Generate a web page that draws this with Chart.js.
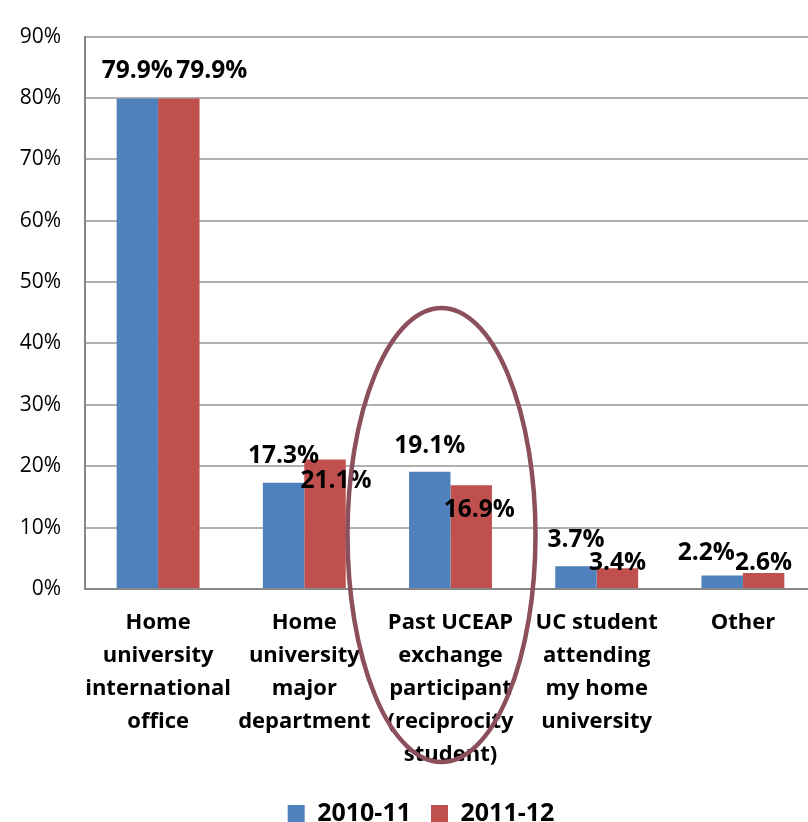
<!DOCTYPE html>
<html>
<head>
<meta charset="utf-8">
<script src="https://cdn.jsdelivr.net/npm/chart.js@4.4.1/dist/chart.umd.min.js"></script>
<style>
  html, body { margin: 0; padding: 0; background: #fff; }
  #wrap { width: 808px; height: 822px; }
</style>
</head>
<body>
<div id="wrap"><canvas id="chart" width="808" height="822"></canvas></div>
<script>
// categories (multi-line labels, as in the original)
const categories = [
  ['Home', 'university', 'international', 'office'],
  ['Home', 'university', 'major', 'department'],
  ['Past UCEAP', 'exchange', 'participant', '(reciprocity', 'student)'],
  ['UC student', 'attending', 'my home', 'university'],
  ['Other']
];
const seriesNames = ['2010-11', '2011-12'];
const values2010 = [79.9, 17.3, 19.1, 3.7, 2.2];
const values2011 = [79.9, 21.1, 16.9, 3.4, 2.6];
const yTicks = [0, 10, 20, 30, 40, 50, 60, 70, 80, 90];

const FONT = "'Open Sans', 'DejaVu Sans', sans-serif";

// label nudges (px) so the data labels sit where the original has them
const labelDx = [[0, 0, 0, 0, -16], [33, 11, 8, 0, 0]];
const labelDy = [[-28, -27, -26, -26, -22], [-28, 22, 25, -5, -10]];

const dataLabels = {
  id: 'dataLabels',
  afterDatasetsDraw(chart) {
    const ctx = chart.ctx;
    ctx.save();
    ctx.font = 'bold 24.5px ' + FONT;
    ctx.fillStyle = '#000';
    ctx.textAlign = 'center';
    ctx.textBaseline = 'middle';
    chart.data.datasets.forEach((ds, i) => {
      chart.getDatasetMeta(i).data.forEach((bar, j) => {
        ctx.fillText(ds.data[j].toFixed(1) + '%', bar.x + labelDx[i][j], bar.y + labelDy[i][j]);
      });
    });
    ctx.restore();
  }
};

// hand-drawn ring around the "Past UCEAP" group
const ring = {
  id: 'ring',
  afterDraw(chart) {
    const ctx = chart.ctx;
    const cx = chart.scales.x.getPixelForValue(2) - 9;
    ctx.save();
    ctx.strokeStyle = '#8c4f5c';
    ctx.lineWidth = 4.5;
    ctx.beginPath();
    ctx.ellipse(cx, 535, 94, 227, 0, 0, Math.PI * 2);
    ctx.stroke();
    ctx.restore();
  }
};

// in the original the category axis runs a bit past the right edge,
// and the legend sits a little right of the page centre
const layoutTweaks = {
  id: 'layoutTweaks',
  afterLayout(chart) {
    const x = chart.scales.x;
    x.right += 8;
    x.width += 8;
    x.configure();
    if (chart.legend) {
      chart.legend.left += 17;
      chart.legend.right += 17;
    }
  }
};

new Chart(document.getElementById('chart'), {
  type: 'bar',
  data: {
    labels: categories,
    datasets: [
      { label: seriesNames[0], data: values2010, backgroundColor: '#4f81bd' },
      { label: seriesNames[1], data: values2011, backgroundColor: '#c0504d' }
    ]
  },
  options: {
    responsive: false,
    animation: false,
    layout: { padding: { top: 22, right: 0, left: 0, bottom: -14 } },
    datasets: { bar: { categoryPercentage: 0.567, barPercentage: 1.0 } },
    plugins: {
      tooltip: { enabled: false },
      legend: {
        position: 'bottom',
        labels: {
          boxWidth: 17,
          boxHeight: 17,
          padding: 20,
          color: '#000',
          font: { family: FONT, size: 25, weight: 'bold' }
        }
      }
    },
    scales: {
      x: {
        grid: { display: false, drawTicks: false },
        border: { color: '#868686', width: 2 },
        ticks: {
          color: '#000',
          padding: 17,
          maxRotation: 0,
          autoSkip: false,
          font: { family: FONT, size: 22, weight: 'bold', lineHeight: 1.5 }
        },
        afterFit(scale) { scale.height = 192; }
      },
      y: {
        min: 0,
        max: 90,
        afterBuildTicks(scale) { scale.ticks = yTicks.map(v => ({ value: v })); },
        grid: { color: '#b0b0b0', lineWidth: 2, drawTicks: false },
        border: { color: '#868686', width: 2 },
        ticks: {
          color: '#000',
          padding: 24,
          font: { family: FONT, size: 21 },
          callback: v => v + '%'
        },
        afterFit(scale) { scale.width = 85; }
      }
    }
  },
  plugins: [dataLabels, ring, layoutTweaks]
});
</script>
</body>
</html>
